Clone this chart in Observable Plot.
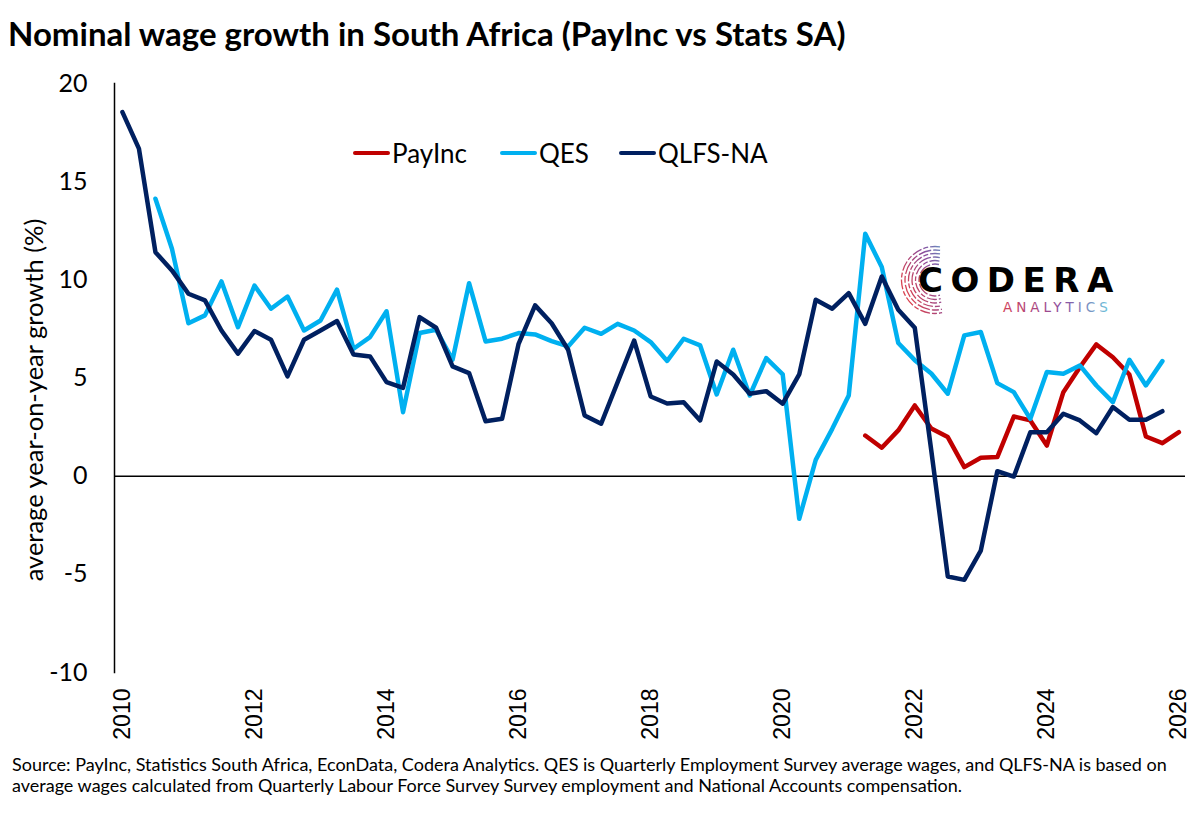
<!DOCTYPE html>
<html>
<head>
<meta charset="utf-8">
<script src="https://cdn.jsdelivr.net/npm/d3@7"></script>
<script src="https://cdn.jsdelivr.net/npm/@observablehq/plot@0.6"></script>
<style>
  html, body { margin: 0; padding: 0; background: #fff; }
  #wrap { position: relative; width: 1200px; height: 818px; overflow: hidden; font-family: Lato, "Noto Sans", sans-serif; }
  #title { position: absolute; left: 8px; top: 13px; font-size: 33px; font-weight: 700; color: #000; white-space: nowrap; }
  #chart { position: absolute; left: 0; top: 0; }
  #ylabel { position: absolute; left: 33px; top: 400px; transform: translate(-50%, -50%) rotate(-90deg); font-size: 25.5px; white-space: nowrap; color: #000; }
  .lg { position: absolute; top: 137px; display: flex; align-items: center; font-size: 26px; color: #000; white-space: nowrap; }
  .swatch { width: 37px; height: 4.5px; border-radius: 2px; margin-right: 2px; }
  #footer { position: absolute; left: 12px; top: 754px; font-size: 18px; line-height: 21px; color: #000; white-space: nowrap; }
  #logo { position: absolute; left: 0; top: 0; }
</style>
</head>
<body>
<div id="wrap">
  <div id="chart"></div>
  <div id="title"></div>
  <div id="ylabel"></div>
  <div id="legend"></div>
  <svg id="logo" width="1200" height="818"></svg>
  <div id="footer"></div>
</div>
<script>
// ---- data (quarterly, year-on-year %) ----
const startYear = 2010; // first quarter 2010Q1
const seriesNames = ["PayInc", "QES", "QLFS-NA"];
const seriesColors = ["#C00000", "#00B0F0", "#002060"];

// PayInc starts 2021Q2 (index 45)
const payIncStart = 45;
const payInc = [2.07, 1.45, 2.33, 3.60, 2.43, 1.99, 0.46, 0.94, 0.97, 3.04,
  2.84, 1.56, 4.28, 5.55, 6.71, 6.06, 5.18, 2.02, 1.68, 2.24];

// QES starts 2010Q3 (index 2)
const qesStart = 2;
const qes = [14.13, 11.58, 7.79, 8.19, 9.92, 7.59, 9.71, 8.53, 9.15, 7.42,
  7.93, 9.50, 6.49, 7.08, 8.40, 3.26, 7.29, 7.46, 5.93, 9.83,
  6.86, 7.00, 7.29, 7.22, 6.88, 6.61, 7.56, 7.25, 7.76, 7.42,
  6.83, 5.87, 7.00, 6.66, 4.16, 6.44, 4.11, 6.01, 5.18, -2.17,
  0.83, 2.41, 4.11, 12.35, 10.65, 6.78, 5.91, 5.23, 4.20, 7.17,
  7.34, 4.74, 4.28, 2.92, 5.30, 5.22, 5.64, 4.62, 3.77, 5.93,
  4.62, 5.86];

// QLFS-NA starts 2010Q1 (index 0)
const qlfsStart = 0;
const qlfs = [18.54, 16.68, 11.41, 10.48, 9.29, 8.95, 7.42, 6.24, 7.39, 6.95,
  5.08, 6.95, 7.42, 7.90, 6.20, 6.10, 4.79, 4.50, 8.10, 7.56,
  5.59, 5.25, 2.80, 2.92, 6.74, 8.70, 7.79, 6.44, 3.09, 2.67,
  4.79, 6.91, 4.06, 3.70, 3.77, 2.84, 5.84, 5.18, 4.20, 4.33,
  3.69, 5.18, 8.99, 8.53, 9.32, 7.76, 10.17, 8.48, 7.56, 1.30,
  -5.11, -5.28, -3.79, 0.25, -0.02, 2.24, 2.24, 3.18, 2.84, 2.19,
  3.52, 2.87, 2.87, 3.31];

const xTicks = [2010, 2012, 2014, 2016, 2018, 2020, 2022, 2024, 2026];
const yTicks = [-10, -5, 0, 5, 10, 15, 20];

const titleText = "Nominal wage growth in South Africa (PayInc vs Stats SA)";
const yLabelText = "average year-on-year growth (%)";
const footerLines = [
  "Source: PayInc, Statistics South Africa, EconData, Codera Analytics. QES is Quarterly Employment Survey average wages, and QLFS-NA is based on",
  "average wages calculated from Quarterly Labour Force Survey Survey employment and National Accounts compensation."
];

// ---- build table ----
function rows(name, start, values) {
  return values.map((v, i) => ({ s: name, t: startYear + (start + i) / 4, v }));
}
const data = [
  ...rows("PayInc", payIncStart, payInc),
  ...rows("QES", qesStart, qes),
  ...rows("QLFS-NA", qlfsStart, qlfs)
];

// ---- text ----
document.getElementById("title").textContent = titleText;
document.getElementById("ylabel").textContent = yLabelText;
document.getElementById("footer").innerHTML = footerLines.map(l => `<div>${l}</div>`).join("");
const legend = document.getElementById("legend");
const legendLeft = [353, 500, 619];
seriesNames.forEach((n, i) => {
  const it = document.createElement("div");
  it.className = "lg";
  it.style.left = legendLeft[i] + "px";
  it.innerHTML = `<div class="swatch" style="background:${seriesColors[i]}"></div><span>${n}</span>`;
  legend.appendChild(it);
});

// ---- chart ----
const chart = Plot.plot({
  width: 1200,
  height: 745,
  marginLeft: 114,
  marginRight: 15,
  marginTop: 83,
  marginBottom: 73,
  style: { fontFamily: "Lato, sans-serif", background: "transparent", color: "#000" },
  x: { domain: [2009.88, 2026.1], ticks: xTicks },
  y: { domain: [-10, 20], ticks: yTicks },
  color: { domain: seriesNames, range: seriesColors },
  marks: [
    Plot.axisY({ ticks: yTicks, tickSize: 0, tickPadding: 27, fontSize: 25, label: null,
      fontFamily: "Lato, sans-serif", tickFormat: d => d < 0 ? "-" + Math.abs(d) : String(d) }),
    Plot.axisX({ ticks: xTicks, tickSize: 0, tickPadding: 16, tickRotate: -90, fontSize: 23,
      fontFamily: "'Liberation Sans', Arial, sans-serif", label: null, tickFormat: d => String(d) }),
    Plot.frame({ anchor: "left", stroke: "#000", strokeWidth: 1.5 }),
    Plot.ruleY([0], { stroke: "#000", strokeWidth: 1.5 }),
    Plot.line(data, { x: "t", y: "v", z: "s", stroke: "s", strokeWidth: 4.5,
      strokeLinejoin: "round", strokeLinecap: "round" })
  ]
});
document.getElementById("chart").appendChild(chart);

// ---- Codera logo (decoration) ----
const logo = d3.select("#logo");
const defs = logo.append("defs");
const g = defs.append("linearGradient").attr("id", "lg").attr("gradientUnits", "userSpaceOnUse")
  .attr("x1", 900).attr("y1", 280).attr("x2", 960).attr("y2", 250);
g.append("stop").attr("offset", "0").attr("stop-color", "#d9424f");
g.append("stop").attr("offset", "0.5").attr("stop-color", "#8a4c9c");
g.append("stop").attr("offset", "1").attr("stop-color", "#4fc6e0");
const g2 = defs.append("linearGradient").attr("id", "lg2").attr("x1", "0").attr("x2", "1");
g2.append("stop").attr("offset", "0").attr("stop-color", "#d0405a");
g2.append("stop").attr("offset", "0.55").attr("stop-color", "#8a4fa0");
g2.append("stop").attr("offset", "1").attr("stop-color", "#6ccbe0");
const cx = 935, cy = 280;
[16, 19.5, 23, 26.5, 30, 33.5].forEach((r, k) => {
  const a0 = Math.PI * 0.42 + k * 0.02, a1 = Math.PI * 1.6 - k * 0.02; // from top-right via left to bottom-right
  const p = d3.path();
  p.arc(cx, cy, r, -a0, -a1, true);
  logo.append("path").attr("d", p.toString())
    .attr("fill", "none").attr("stroke", "url(#lg)").attr("stroke-width", 1.3)
    .attr("stroke-dasharray", k % 2 ? "10 2 5 2" : "7 2 13 2");
});
logo.append("text").attr("x", 918).attr("y", 292).attr("font-family", "'DejaVu Sans', sans-serif")
  .attr("font-weight", 700).attr("font-size", 34).attr("letter-spacing", 7.5).attr("fill", "#000").text("CODERA");
logo.append("text").attr("x", 1003).attr("y", 312).attr("font-family", "'DejaVu Sans', sans-serif")
  .attr("font-size", 13.5).attr("letter-spacing", 4).attr("fill", "url(#lg2)").text("ANALYTICS");
</script>
</body>
</html>
